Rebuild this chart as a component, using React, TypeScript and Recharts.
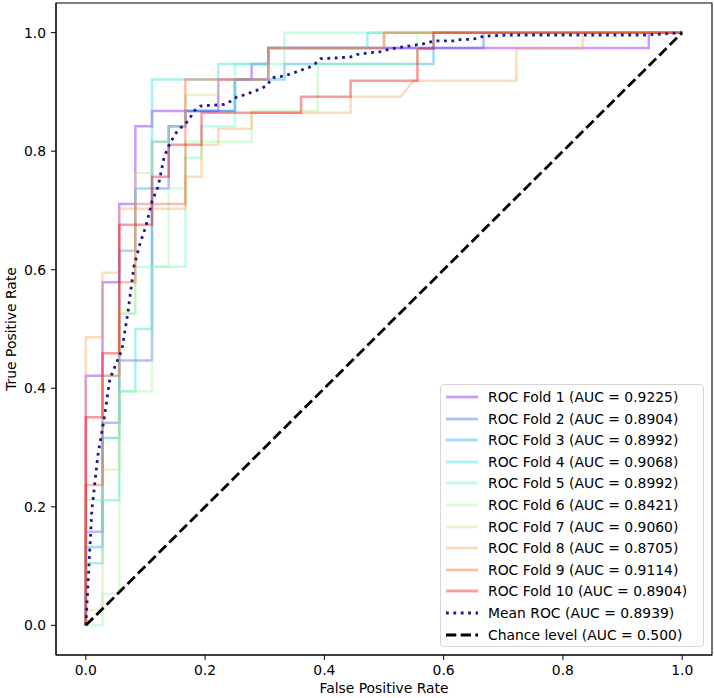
import { LineChart, Line, XAxis, YAxis, ReferenceArea } from "recharts";

type Pt = [number, number];

// ROC folds, [fpr, tpr]
const FOLD_1: Pt[] = [[0, 0], [0, 0.421], [0.028, 0.421], [0.028, 0.579], [0.056, 0.579], [0.056, 0.711], [0.083, 0.711], [0.083, 0.842], [0.111, 0.842], [0.111, 0.868], [0.222, 0.868], [0.222, 0.921], [0.278, 0.921], [0.278, 0.947], [0.306, 0.947], [0.306, 0.974], [0.944, 0.974], [0.944, 1], [1, 1]];
const FOLD_2: Pt[] = [[0, 0], [0, 0.158], [0.028, 0.158], [0.028, 0.342], [0.056, 0.342], [0.056, 0.447], [0.111, 0.447], [0.111, 0.737], [0.139, 0.737], [0.139, 0.842], [0.167, 0.842], [0.167, 0.868], [0.25, 0.868], [0.25, 0.921], [0.306, 0.921], [0.306, 0.974], [0.667, 0.974], [0.667, 1], [1, 1]];
const FOLD_3: Pt[] = [[0, 0], [0, 0.132], [0.028, 0.132], [0.028, 0.316], [0.056, 0.316], [0.056, 0.632], [0.083, 0.632], [0.083, 0.737], [0.111, 0.737], [0.111, 0.816], [0.139, 0.816], [0.139, 0.842], [0.167, 0.842], [0.167, 0.868], [0.25, 0.868], [0.25, 0.921], [0.333, 0.921], [0.333, 0.947], [0.583, 0.947], [0.583, 1], [1, 1]];
const FOLD_4: Pt[] = [[0, 0], [0, 0.105], [0.028, 0.105], [0.028, 0.211], [0.056, 0.211], [0.056, 0.395], [0.083, 0.395], [0.083, 0.5], [0.111, 0.5], [0.111, 0.921], [0.222, 0.921], [0.222, 0.947], [0.306, 0.947], [0.306, 0.974], [0.472, 0.974], [0.472, 1], [1, 1]];
const FOLD_5: Pt[] = [[0, 0], [0, 0.211], [0.028, 0.211], [0.028, 0.421], [0.056, 0.421], [0.056, 0.526], [0.083, 0.526], [0.083, 0.605], [0.167, 0.605], [0.167, 0.789], [0.194, 0.789], [0.194, 0.842], [0.25, 0.842], [0.25, 0.947], [0.333, 0.947], [0.333, 1], [1, 1]];
const FOLD_6: Pt[] = [[0, 0], [0.028, 0], [0.028, 0.053], [0.056, 0.053], [0.056, 0.395], [0.111, 0.395], [0.111, 0.605], [0.139, 0.605], [0.139, 0.737], [0.167, 0.737], [0.167, 0.816], [0.278, 0.816], [0.278, 0.868], [0.389, 0.868], [0.389, 0.947], [0.556, 0.947], [0.556, 1], [1, 1]];
const FOLD_7: Pt[] = [[0, 0], [0, 0.026], [0.028, 0.026], [0.028, 0.263], [0.056, 0.263], [0.056, 0.526], [0.083, 0.526], [0.083, 0.763], [0.111, 0.763], [0.111, 0.816], [0.139, 0.816], [0.139, 0.842], [0.167, 0.842], [0.167, 0.895], [0.222, 0.895], [0.222, 0.921], [0.306, 0.921], [0.306, 0.974], [0.5, 0.974], [0.5, 1], [1, 1]];
const FOLD_8: Pt[] = [[0, 0], [0, 0.486], [0.028, 0.486], [0.028, 0.595], [0.056, 0.595], [0.056, 0.703], [0.167, 0.703], [0.167, 0.757], [0.194, 0.757], [0.194, 0.811], [0.222, 0.811], [0.222, 0.838], [0.278, 0.838], [0.278, 0.865], [0.444, 0.865], [0.444, 0.892], [0.528, 0.892], [0.55, 0.919], [0.722, 0.919], [0.722, 0.973], [0.833, 0.973], [0.833, 1], [1, 1]];
const FOLD_9: Pt[] = [[0, 0], [0, 0.237], [0.028, 0.237], [0.028, 0.421], [0.056, 0.421], [0.056, 0.579], [0.083, 0.579], [0.083, 0.711], [0.167, 0.711], [0.167, 0.921], [0.306, 0.921], [0.306, 0.974], [0.5, 0.974], [0.5, 1], [1, 1]];
const FOLD_10: Pt[] = [[0, 0], [0, 0.351], [0.028, 0.351], [0.028, 0.459], [0.056, 0.459], [0.056, 0.676], [0.111, 0.676], [0.111, 0.757], [0.139, 0.757], [0.139, 0.811], [0.194, 0.811], [0.194, 0.865], [0.361, 0.865], [0.361, 0.892], [0.444, 0.892], [0.444, 0.919], [0.556, 0.919], [0.556, 0.973], [0.583, 0.973], [0.583, 1], [1, 1]];

const FOLDS = [FOLD_1, FOLD_2, FOLD_3, FOLD_4, FOLD_5, FOLD_6, FOLD_7, FOLD_8, FOLD_9, FOLD_10];

// rainbow colormap, one per fold
const FOLD_COLORS = ["#8000ff", "#4757fb", "#0ea4f0", "#2adddd", "#63fbc3", "#9cfba4", "#d4dd80", "#ffa457", "#ff572c", "#ff0000"];

const FOLD_AUC = ["0.9225", "0.8904", "0.8992", "0.9068", "0.8992", "0.8421", "0.9060", "0.8705", "0.9114", "0.8904"];

const MEAN_ROC: Pt[] = [
  [0, 0], [0.0101, 0.194], [0.0202, 0.287], [0.0303, 0.346], [0.0404, 0.416], [0.0505, 0.441],
  [0.0606, 0.465], [0.0707, 0.529], [0.0808, 0.606], [0.0909, 0.644], [0.101, 0.674], [0.1111, 0.716],
  [0.1212, 0.74], [0.1313, 0.79], [0.1414, 0.814], [0.1515, 0.831], [0.1616, 0.842], [0.1717, 0.851],
  [0.1818, 0.868], [0.1919, 0.876], [0.202, 0.877], [0.2222, 0.878], [0.2323, 0.879], [0.2424, 0.884],
  [0.2525, 0.891], [0.2626, 0.894], [0.2828, 0.901], [0.303, 0.91], [0.3131, 0.924], [0.3333, 0.927],
  [0.3535, 0.934], [0.3737, 0.941], [0.3838, 0.947], [0.3939, 0.956], [0.4141, 0.957], [0.4444, 0.959],
  [0.4545, 0.963], [0.4747, 0.966], [0.4949, 0.968], [0.5051, 0.971], [0.5253, 0.975], [0.5455, 0.978],
  [0.5657, 0.981], [0.5758, 0.984], [0.5859, 0.986], [0.6162, 0.986], [0.6263, 0.988], [0.6465, 0.989],
  [0.6566, 0.99], [0.6667, 0.994], [0.7071, 0.996], [0.8081, 0.996], [0.9394, 0.996], [0.9697, 0.998], [1, 1],
];

const CHANCE: Pt[] = [[0, 0], [1, 1]];

const TICKS = [0, 0.2, 0.4, 0.6, 0.8, 1.0];

const FONT = "DejaVu Sans";
const FS = 13.9;

const toRows = (pts: Pt[]) => pts.map(([fpr, tpr]) => ({ fpr, tpr }));

type LegendItem = { label: string; color: string; dash?: string; opacity: number };

const legendItems: LegendItem[] = [
  ...FOLD_AUC.map((auc, i) => ({
    label: `ROC Fold ${i + 1} (AUC = ${auc})`,
    color: FOLD_COLORS[i],
    opacity: 0.4,
  })),
  { label: "Mean ROC (AUC = 0.8939)", color: "#1c1c8c", dash: "2.8 4.6", opacity: 1 },
  { label: "Chance level (AUC = 0.500)", color: "#000", dash: "10.3 4.4", opacity: 1 },
];

function RocLegend() {
  return (
    <div
      style={{
        position: "absolute",
        left: 440,
        top: 384,
        width: 264,
        height: 263,
        boxSizing: "border-box",
        border: "1px solid #d6d6d6",
        borderRadius: 4,
        background: "rgba(255,255,255,0.8)",
        fontFamily: FONT,
        fontSize: FS,
        color: "#000",
      }}
    >
      {legendItems.map((it, i) => (
        <div
          key={i}
          style={{
            position: "absolute",
            left: 0,
            top: 12 + 21.6 * i - 10.8,
            height: 21.6,
            display: "flex",
            alignItems: "center",
            whiteSpace: "nowrap",
          }}
        >
          <svg width={32} height={6} style={{ marginLeft: 5 }}>
            <line
              x1={0}
              y1={3}
              x2={32}
              y2={3}
              stroke={it.color}
              strokeOpacity={it.opacity}
              strokeWidth={2.8}
              strokeDasharray={it.dash}
            />
          </svg>
          <span style={{ marginLeft: 10 }}>{it.label}</span>
        </div>
      ))}
    </div>
  );
}

export default function App() {
  return (
    <div style={{ position: "absolute", left: 0, top: 0, width: 714, height: 698, background: "#fff" }}>
      <LineChart
        width={714}
        height={698}
        margin={{ top: 3, right: 2, bottom: 0, left: 0 }}
        style={{ fontFamily: FONT }}
      >
        <XAxis
          type="number"
          dataKey="fpr"
          domain={[-0.05, 1.05]}
          ticks={TICKS}
          tickFormatter={(v: number) => v.toFixed(1)}
          height={43}
          stroke="#000"
          tickSize={5}
          tickMargin={5}
          tick={{ fill: "#000", fontSize: FS, fontFamily: FONT }}
          allowDataOverflow
          label={{ value: "False Positive Rate", position: "insideBottom", offset: 5, fill: "#000", fontSize: FS, fontFamily: FONT }}
        />
        <YAxis
          type="number"
          dataKey="tpr"
          domain={[-0.05, 1.05]}
          ticks={TICKS}
          tickFormatter={(v: number) => v.toFixed(1)}
          width={56}
          stroke="#000"
          tickSize={5}
          tickMargin={5}
          tick={{ fill: "#000", fontSize: FS, fontFamily: FONT }}
          allowDataOverflow
          label={{
            content: () => (
              <text
                x={11}
                y={329}
                transform="rotate(-90, 11, 329)"
                textAnchor="middle"
                dominantBaseline="central"
                fill="#000"
                fontSize={FS}
                fontFamily={FONT}
              >
                True Positive Rate
              </text>
            ),
          }}
        />
        <ReferenceArea x1={-0.05} x2={1.05} y1={-0.05} y2={1.05} fill="none" stroke="#000" strokeWidth={1.1} />

        {FOLDS.map((fold, i) => (
          <Line
            key={i}
            data={toRows(fold)}
            dataKey="tpr"
            type="linear"
            stroke={FOLD_COLORS[i]}
            strokeOpacity={0.4}
            strokeWidth={2.5}
            dot={false}
            activeDot={false}
            isAnimationActive={false}
          />
        ))}

        <Line
          data={toRows(MEAN_ROC)}
          dataKey="tpr"
          type="linear"
          stroke="#1c1c8c"
          strokeWidth={2.8}
          strokeDasharray="2.8 4.6"
          dot={false}
          activeDot={false}
          isAnimationActive={false}
        />
        <Line
          data={toRows(CHANCE)}
          dataKey="tpr"
          type="linear"
          stroke="#000"
          strokeWidth={2.8}
          strokeDasharray="10.3 4.4"
          dot={false}
          activeDot={false}
          isAnimationActive={false}
        />
      </LineChart>
      <RocLegend />
    </div>
  );
}
